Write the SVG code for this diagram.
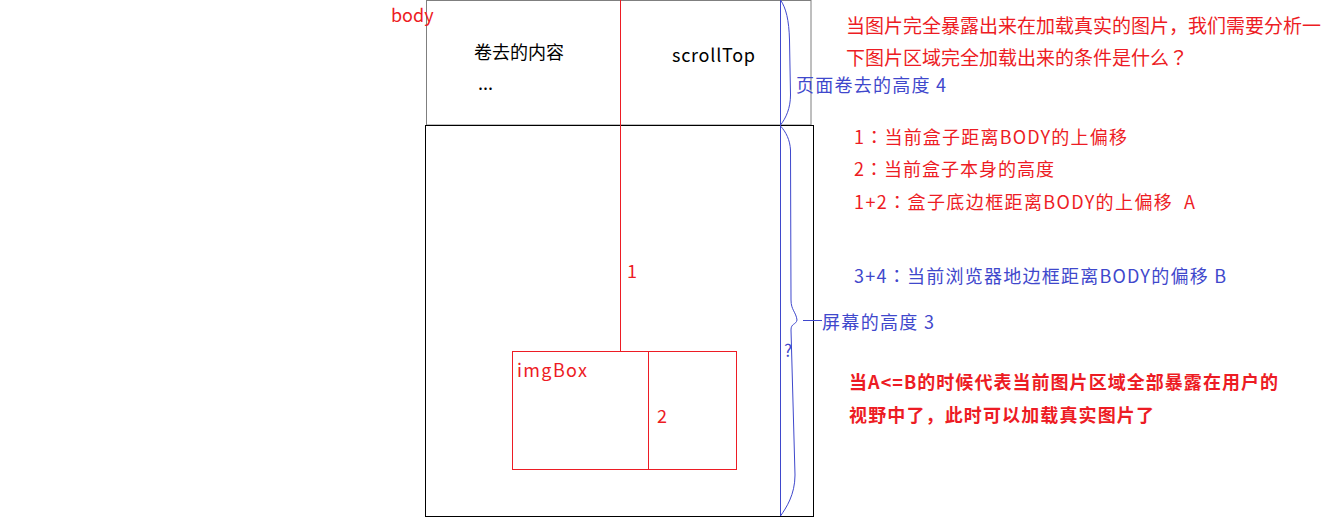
<svg xmlns="http://www.w3.org/2000/svg" width="1336" height="532" viewBox="0 0 1336 532">
<style>
text{font-family:"Noto Sans CJK SC","Noto Sans",sans-serif;font-size:18px}
.r{fill:#ed1c24}
.b{fill:#3f48cc}
.k{fill:#000}
.bold{font-weight:bold}
.c{font-family:"Noto Sans CJK TC",sans-serif}
.lr{stroke:#ed1c24;stroke-width:1;fill:none}
.lb{stroke:#3f48cc;stroke-width:1;fill:none}
</style>
<rect width="1336" height="532" fill="#fff"/>
<g id="scrolled-area">
<rect x="426.5" y="0.5" width="384.5" height="124.5" fill="none" stroke="#7f7f7f"/>
<text class="k" x="474" y="59">卷去的内容</text>
<text class="k" x="478" y="90">...</text>
<text class="k" x="672" y="62" textLength="83" lengthAdjust="spacing">scrollTop</text>
</g>
<g id="screen">
<rect x="425.5" y="125.5" width="388" height="391" fill="none" stroke="#000"/>
</g>
<g id="imgBox">
<rect x="512.5" y="351.5" width="224" height="118" class="lr"/>
<line x1="648.5" y1="351.5" x2="648.5" y2="469.5" class="lr"/>
<text class="r" x="517" y="377" textLength="70" lengthAdjust="spacing">imgBox</text>
<text class="r" x="657" y="423">2</text>
</g>
<g id="connectors">
<line x1="620.5" y1="0" x2="620.5" y2="351.5" class="lr"/>
<line x1="780.5" y1="0" x2="780.5" y2="516" class="lb"/>
<path class="lb" d="M780.5,0 C786,8 789,20 789.5,40 L790.5,95 C790.5,108 786,118 780.5,125"/>
<path class="lb" d="M780.5,126 C786,132 790,140 790.5,150 L791,300 C791,310 796,312 797,320 C796,325 791,323 791,330 L795,475 C795,495 786,508 780.5,516"/>
<line x1="803" y1="320.5" x2="822" y2="320.5" class="lb"/>
</g>
<g id="labels">
<text class="r" x="391" y="22">body</text>
<text class="r" x="627" y="278">1</text>
<text class="b" x="784" y="357" style="font-size:17px">?</text>
<text class="b" x="796" y="92" textLength="150" lengthAdjust="spacing">页面卷去的高度 4</text>
<text class="b" x="822" y="329" textLength="112" lengthAdjust="spacing">屏幕的高度 3</text>
<text class="r" x="846" y="33" style="font-size:19px">当图片完全暴露出来在加载真实的图片，我们需要分析一</text>
<text class="r" x="846" y="65" style="font-size:19px">下图片区域完全加载出来的条件是什么<tspan class="c">？</tspan></text>
<text class="r" x="854" y="144" textLength="273" lengthAdjust="spacing">1<tspan class="c">：</tspan>当前盒子距离BODY的上偏移</text>
<text class="r" x="854" y="176" textLength="200" lengthAdjust="spacing">2<tspan class="c">：</tspan>当前盒子本身的高度</text>
<text class="r" x="854" y="209" xml:space="preserve" textLength="341" lengthAdjust="spacing">1+2<tspan class="c">：</tspan>盒子底边框距离BODY的上偏移  A</text>
<text class="b" x="854" y="283" textLength="372" lengthAdjust="spacing">3+4<tspan class="c">：</tspan>当前浏览器地边框距离BODY的偏移 B</text>
<text class="r bold" x="849" y="389" textLength="429" lengthAdjust="spacing">当A&lt;=B的时候代表当前图片区域全部暴露在用户的</text>
<text class="r bold" x="849" y="422" textLength="305" lengthAdjust="spacing">视野中了，此时可以加载真实图片了</text>
</g>
</svg>
